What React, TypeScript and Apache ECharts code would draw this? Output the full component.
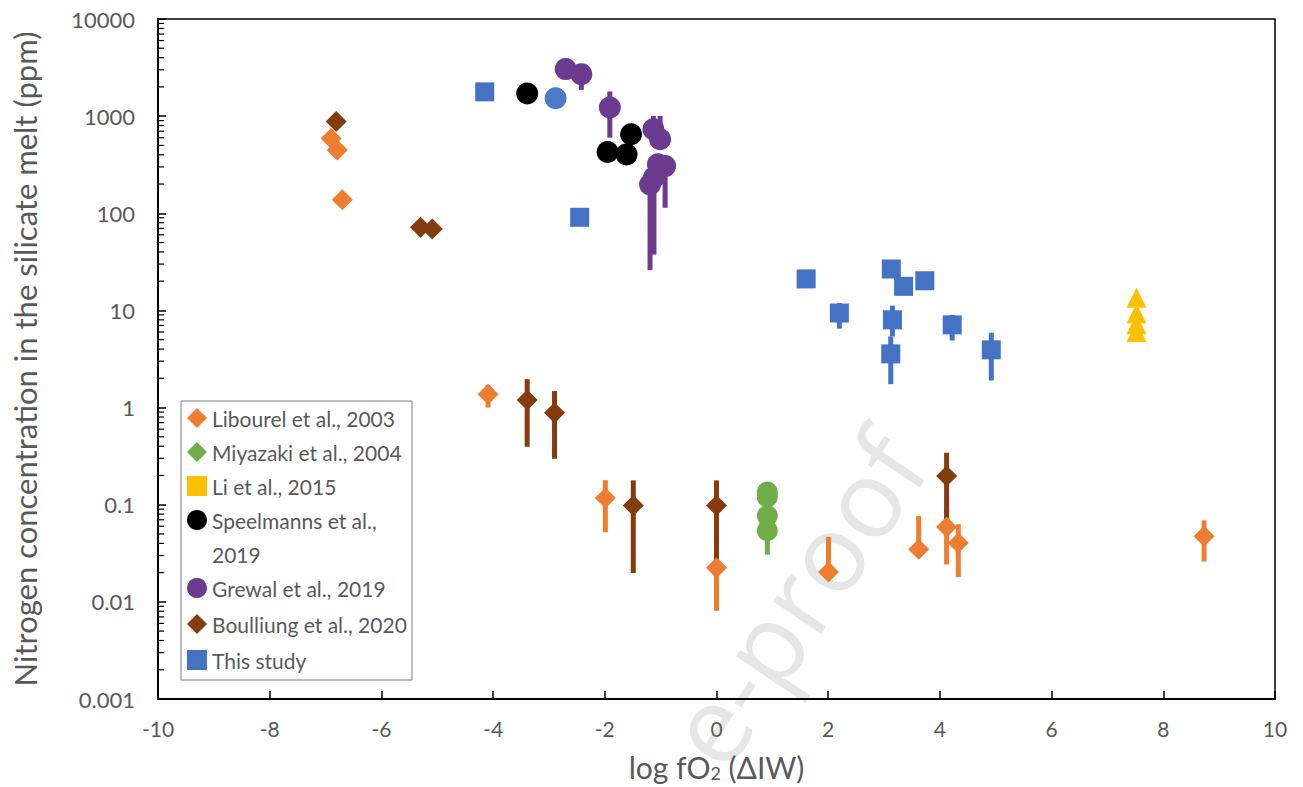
import React, { useEffect, useRef } from "react";
import * as echarts from "echarts";

// ---------- data ----------
const yTickLabels = ["0.001", "0.01", "0.1", "1", "10", "100", "1000", "10000"];

const libourelPts = [
  [-6.9, 587], [-6.79, 448], [-6.7, 138], [-4.09, 1.37], [-1.99, 0.117],
  [0.0, 0.0225], [2.005, 0.0203], [3.62, 0.0347], [4.12, 0.059], [4.33, 0.0403], [8.73, 0.0473],
];
const libourelErr = [
  [-4.09, 1.0, 1.7], [-1.99, 0.052, 0.179], [0.0, 0.0081, 0.04], [2.005, 0.0203, 0.0466],
  [3.62, 0.0347, 0.0767], [4.12, 0.0243, 0.09], [4.33, 0.018, 0.063], [8.73, 0.026, 0.069],
];

const miyazakiPts = [[0.91, 0.135], [0.91, 0.12], [0.91, 0.077], [0.91, 0.054]];
const miyazakiErr = [[0.91, 0.0306, 0.054]];

const liPts = [[7.52, 13.5], [7.52, 9.3], [7.52, 7.2], [7.52, 6.0]];

const speelmannsPts = [[-3.39, 1711], [-1.95, 427], [-1.61, 404], [-1.53, 650]];

const grewalPts = [
  [-2.7, 3048], [-2.42, 2706], [-1.91, 1227], [-1.13, 733], [-1.01, 578],
  [-1.05, 319], [-0.92, 306], [-1.19, 198], [-1.12, 234],
];
const grewalErr = [
  [-2.42, 1864, 2706], [-1.91, 601, 1795], [-1.13, 733, 1005], [-1.01, 578, 1005],
  [-0.92, 114, 306], [-1.19, 26, 198], [-1.12, 37.6, 234],
];

const boulliungPts = [
  [-6.81, 880], [-5.3, 72], [-5.09, 69], [-3.39, 1.2], [-2.9, 0.887],
  [-1.49, 0.098], [0.0, 0.098], [4.12, 0.197],
];
const boulliungErr = [
  [-3.39, 0.395, 1.96], [-2.9, 0.297, 1.48], [-1.49, 0.0198, 0.178],
  [0.0, 0.027, 0.178], [4.12, 0.059, 0.343],
];

const thisStudyPts = [
  [-4.15, 1778], [-2.45, 91], [1.605, 21.1], [2.2, 9.4], [3.13, 26.7], [3.35, 17.7],
  [3.73, 20.2], [3.15, 8.0], [3.12, 3.57], [4.22, 7.1], [4.92, 3.93],
];
const thisStudyErr = [
  [2.2, 6.5, 11.9], [3.15, 5.4, 11.2], [3.12, 1.74, 5.4], [4.22, 4.9, 9.0], [4.92, 1.9, 5.9],
];

const blueCirclePts = [[-2.88, 1531]];

const minorTickValues: number[] = [];
for (let e = -3; e < 4; e++) {
  for (let m = 2; m <= 9; m++) minorTickValues.push(m * Math.pow(10, e));
}

// ---------- styles ----------
const C = {
  libourel: "#ED7D31",
  miyazaki: "#70AD47",
  li: "#FFC000",
  speelmanns: "#000000",
  grewal: "#6A3B8F",
  boulliung: "#843C0C",
  thisStudy: "#4472C4",
  blueCircle: "#4A7CC4",
};
const FONT = "Lato";
const GREY = "#595959";

function errSeries(name: string, data: number[][], color: string) {
  return {
    type: "custom",
    name,
    z: 1,
    data,
    encode: { x: 0, y: [1, 2] },
    renderItem: (_p: any, api: any) => {
      const x = api.value(0);
      const a = api.coord([x, api.value(1)]);
      const b = api.coord([x, api.value(2)]);
      return {
        type: "line",
        shape: { x1: a[0], y1: a[1], x2: b[0], y2: b[1] },
        style: { stroke: color, lineWidth: 5 },
      };
    },
  };
}

function scatter(name: string, data: number[][], color: string, symbol: string, size: number) {
  return {
    type: "scatter",
    name,
    z: 3,
    data,
    symbol,
    symbolSize: size,
    itemStyle: { color, opacity: 1 },
    emphasis: { disabled: true },
  };
}

export default function App() {
  const ref = useRef<HTMLDivElement>(null);
  useEffect(() => {
    if (!ref.current) return;
    const chart = echarts.init(ref.current, undefined, { renderer: "svg" });
    const legendText = { color: GREY, fontSize: 21, fontFamily: FONT, lineHeight: 34 };
    const option: any = {
      animation: false,
      backgroundColor: "#fff",
      grid: { left: 158, right: 28, top: 19, bottom: 87, show: true, borderColor: "#000", borderWidth: 1.5 },
      xAxis: {
        type: "value",
        min: -10,
        max: 10,
        interval: 2,
        axisLine: { show: true, onZero: false, lineStyle: { color: "#000", width: 2 } },
        axisTick: { show: true, inside: true, length: 8, lineStyle: { color: "#000", width: 1.5 } },
        axisLabel: { color: GREY, fontSize: 21, fontFamily: FONT, margin: 19 },
        splitLine: { show: false },
        name: "log fO{sub|2} (ΔIW)",
        nameLocation: "middle",
        nameGap: 52,
        nameTextStyle: {
          color: GREY,
          fontSize: 30,
          fontFamily: FONT,
          rich: { sub: { fontSize: 18, color: GREY, fontFamily: FONT, verticalAlign: "bottom", padding: [13, 0, 0, 0] } },
        },
      },
      yAxis: {
        type: "log",
        logBase: 10,
        min: 0.001,
        max: 10000,
        splitNumber: 7,
        axisLine: { show: true, onZero: false, lineStyle: { color: "#000", width: 2 } },
        axisTick: { show: true, inside: true, length: 8, lineStyle: { color: "#000", width: 1.5 } },
        axisLabel: {
          color: GREY,
          fontSize: 22,
          fontFamily: FONT,
          margin: 23,
          formatter: (v: number) => yTickLabels[Math.round(Math.log10(v)) + 3],
        },
        splitLine: { show: false },
        name: "Nitrogen concentration in the silicate melt (ppm)",
        nameLocation: "middle",
        nameGap: 118,
        nameTextStyle: { color: GREY, fontSize: 31, fontFamily: FONT },
      },
      legend: [
        {
          orient: "vertical",
          left: 187,
          top: 401,
          padding: 0,
          itemGap: 0,
          itemWidth: 20,
          itemHeight: 20,
          selectedMode: false,
          textStyle: legendText,
          formatter: (n: string) => (n === "Speelmanns et al., 2019" ? "Speelmanns et al.," : n),
          data: [
            { name: "Libourel et al., 2003", icon: "diamond" },
            { name: "Miyazaki et al., 2004", icon: "diamond" },
            { name: "Li et al., 2015", icon: "rect" },
            { name: "Speelmanns et al., 2019", icon: "circle" },
          ],
        },
        {
          orient: "vertical",
          left: 187,
          top: 570,
          padding: 0,
          itemGap: 0,
          itemWidth: 20,
          itemHeight: 20,
          selectedMode: false,
          textStyle: { ...legendText, lineHeight: 36 },
          data: [
            { name: "Grewal et al., 2019", icon: "circle" },
            { name: "Boulliung et al., 2020", icon: "diamond" },
            { name: "This study", icon: "rect" },
          ],
        },
      ],
      graphic: [
        {
          type: "text",
          z: 0,
          silent: true,
          x: 795,
          y: 598,
          rotation: (56 * Math.PI) / 180,
          style: {
            text: "e-proof",
            fontSize: 108,
            fontFamily: "Open Sans",
            fill: "#e6e6e6",
            align: "center",
            verticalAlign: "middle",
          },
        },
        {
          type: "rect",
          z: 50,
          silent: true,
          shape: { x: 181, y: 401, width: 231, height: 279 },
          style: { fill: "none", stroke: "#7f7f7f", lineWidth: 1 },
        },
        {
          type: "text",
          z: 50,
          silent: true,
          x: 212,
          y: 554,
          style: { text: "2019", fontSize: 21, fontFamily: FONT, fill: GREY, verticalAlign: "middle" },
        },
      ],
      series: [
        {
          type: "custom",
          name: "minor-ticks",
          z: 4,
          silent: true,
          data: minorTickValues.map((v) => [-10, v]),
          encode: { x: 0, y: 1 },
          renderItem: (_p: any, api: any) => {
            const p = api.coord([api.value(0), api.value(1)]);
            return {
              type: "line",
              shape: { x1: p[0], y1: p[1], x2: p[0] + 6, y2: p[1] },
              style: { stroke: "#000", lineWidth: 1.2 },
            };
          },
        },
        errSeries("err-libourel", libourelErr, C.libourel),
        errSeries("err-miyazaki", miyazakiErr, C.miyazaki),
        errSeries("err-grewal", grewalErr, C.grewal),
        errSeries("err-boulliung", boulliungErr, C.boulliung),
        errSeries("err-this", thisStudyErr, C.thisStudy),
        scatter("Libourel et al., 2003", libourelPts, C.libourel, "diamond", 21),
        scatter("Miyazaki et al., 2004", miyazakiPts, C.miyazaki, "circle", 21),
        scatter("Li et al., 2015", liPts, C.li, "triangle", 20),
        scatter("Speelmanns et al., 2019", speelmannsPts, C.speelmanns, "circle", 22),
        scatter("Grewal et al., 2019", grewalPts, C.grewal, "circle", 22),
        scatter("Boulliung et al., 2020", boulliungPts, C.boulliung, "diamond", 21),
        scatter("This study", thisStudyPts, C.thisStudy, "rect", 19),
        scatter("This study (circle)", blueCirclePts, C.blueCircle, "circle", 22),
      ],
    };
    chart.setOption(option);
    return () => chart.dispose();
  }, []);
  return (
    <div
      ref={ref}
      style={{ position: "fixed", left: 0, top: 0, width: 1303, height: 787, background: "#fff" }}
    />
  );
}
